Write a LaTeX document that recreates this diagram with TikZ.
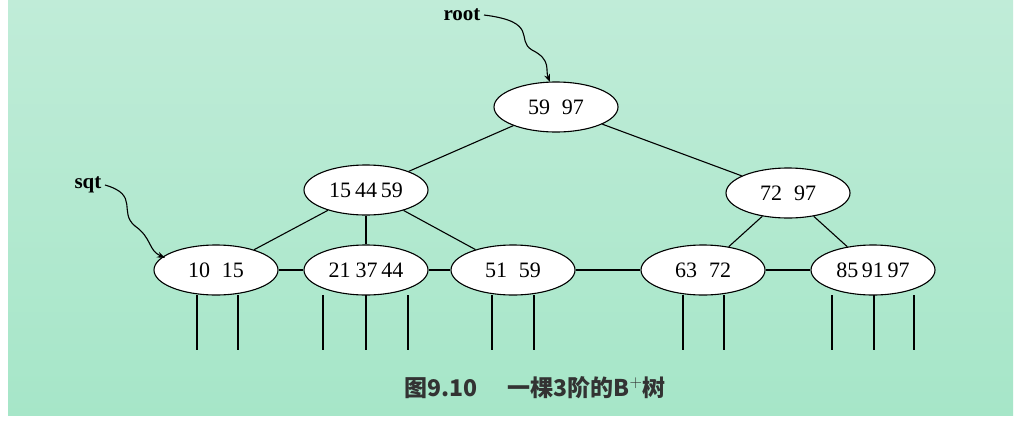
\documentclass[tikz,border=0pt]{standalone}
\usepackage{fontspec}
\setmainfont{Liberation Serif}
\newfontfamily\cjk{Noto Sans CJK SC}
\usetikzlibrary{shapes.geometric, arrows.meta}
\definecolor{bgtop}{RGB}{192,236,216}
\definecolor{bgbot}{RGB}{166,230,200}

\begin{document}
\begin{tikzpicture}[x=1pt,y=-1pt,
    keynode/.style={ellipse, draw, line width=1.1pt, fill=white, minimum width=124pt, minimum height=50pt,
      inner sep=0pt, font=\fontsize{22}{22}\selectfont},
    ptr/.style={draw, line width=1.1pt}]
  \useasboundingbox (0,0) rectangle (1024,421);
  \fill[white] (0,0) rectangle (1024,421);
  \shade[top color=bgtop, bottom color=bgbot] (8,0) rectangle (1013,415);
  % inner nodes
  \node[keynode] (root) at (556,107) {59\hspace{12pt}97};
  \node[keynode] (a) at (366,190) {15\hspace{4pt}44\,59};
  \node[keynode] (b) at (788,193) {72\hspace{12pt}97};
  % leaves
  \node[keynode] (l1) at (216,270) {10\hspace{12pt}15};
  \node[keynode] (l2) at (366,270) {21\hspace{5pt}37\,44};
  \node[keynode] (l3) at (513,270) {51\hspace{12pt}59};
  \node[keynode] (l4) at (703,270) {63\hspace{12pt}72};
  \node[keynode] (l5) at (873,270) {85\,91\,97};
  % edges
  \draw[ptr] (root) -- (a);
  \draw[ptr] (root) -- (b);
  \draw[ptr] (a) -- (l1);
  \draw[ptr] (a) -- (l2);
  \draw[ptr] (a) -- (l3);
  \draw[ptr] (b) -- (l4);
  \draw[ptr] (b) -- (l5);
  \draw[ptr] (l1) -- (l2);
  \draw[ptr] (l2) -- (l3);
  \draw[ptr] (l3) -- (l4);
  \draw[ptr] (l4) -- (l5);
  % record pointers
  \foreach \x in {197,238,323,366,408,492,534,683,724,832,874,914}
    \draw[ptr] (\x,295) -- (\x,350);
  % labels
  \node[font=\bfseries\fontsize{21}{21}\selectfont] (rootlbl) at (462,15) {root};
  \node[font=\bfseries\fontsize{21}{21}\selectfont] (sqtlbl) at (88,185) {sqt};
  \draw[-{Stealth[length=8pt]}, line width=1.1pt] (rootlbl.east) .. controls (540,22) and (515,40) .. (532,50)
    .. controls (552,60) and (545,70) .. (550,82);
  \draw[-{Stealth[length=8pt]}, line width=1.1pt] (sqtlbl.east) .. controls (140,195) and (118,212) .. (135,226)
    .. controls (152,238) and (148,250) .. (165,258);
  \node[font=\cjk\bfseries\fontsize{23}{23}\selectfont, text=black!80] (cap) at (535,388)
    {图9.10\hspace{30pt}一棵3阶的B$^{+}$树};
\end{tikzpicture}
\end{document}
